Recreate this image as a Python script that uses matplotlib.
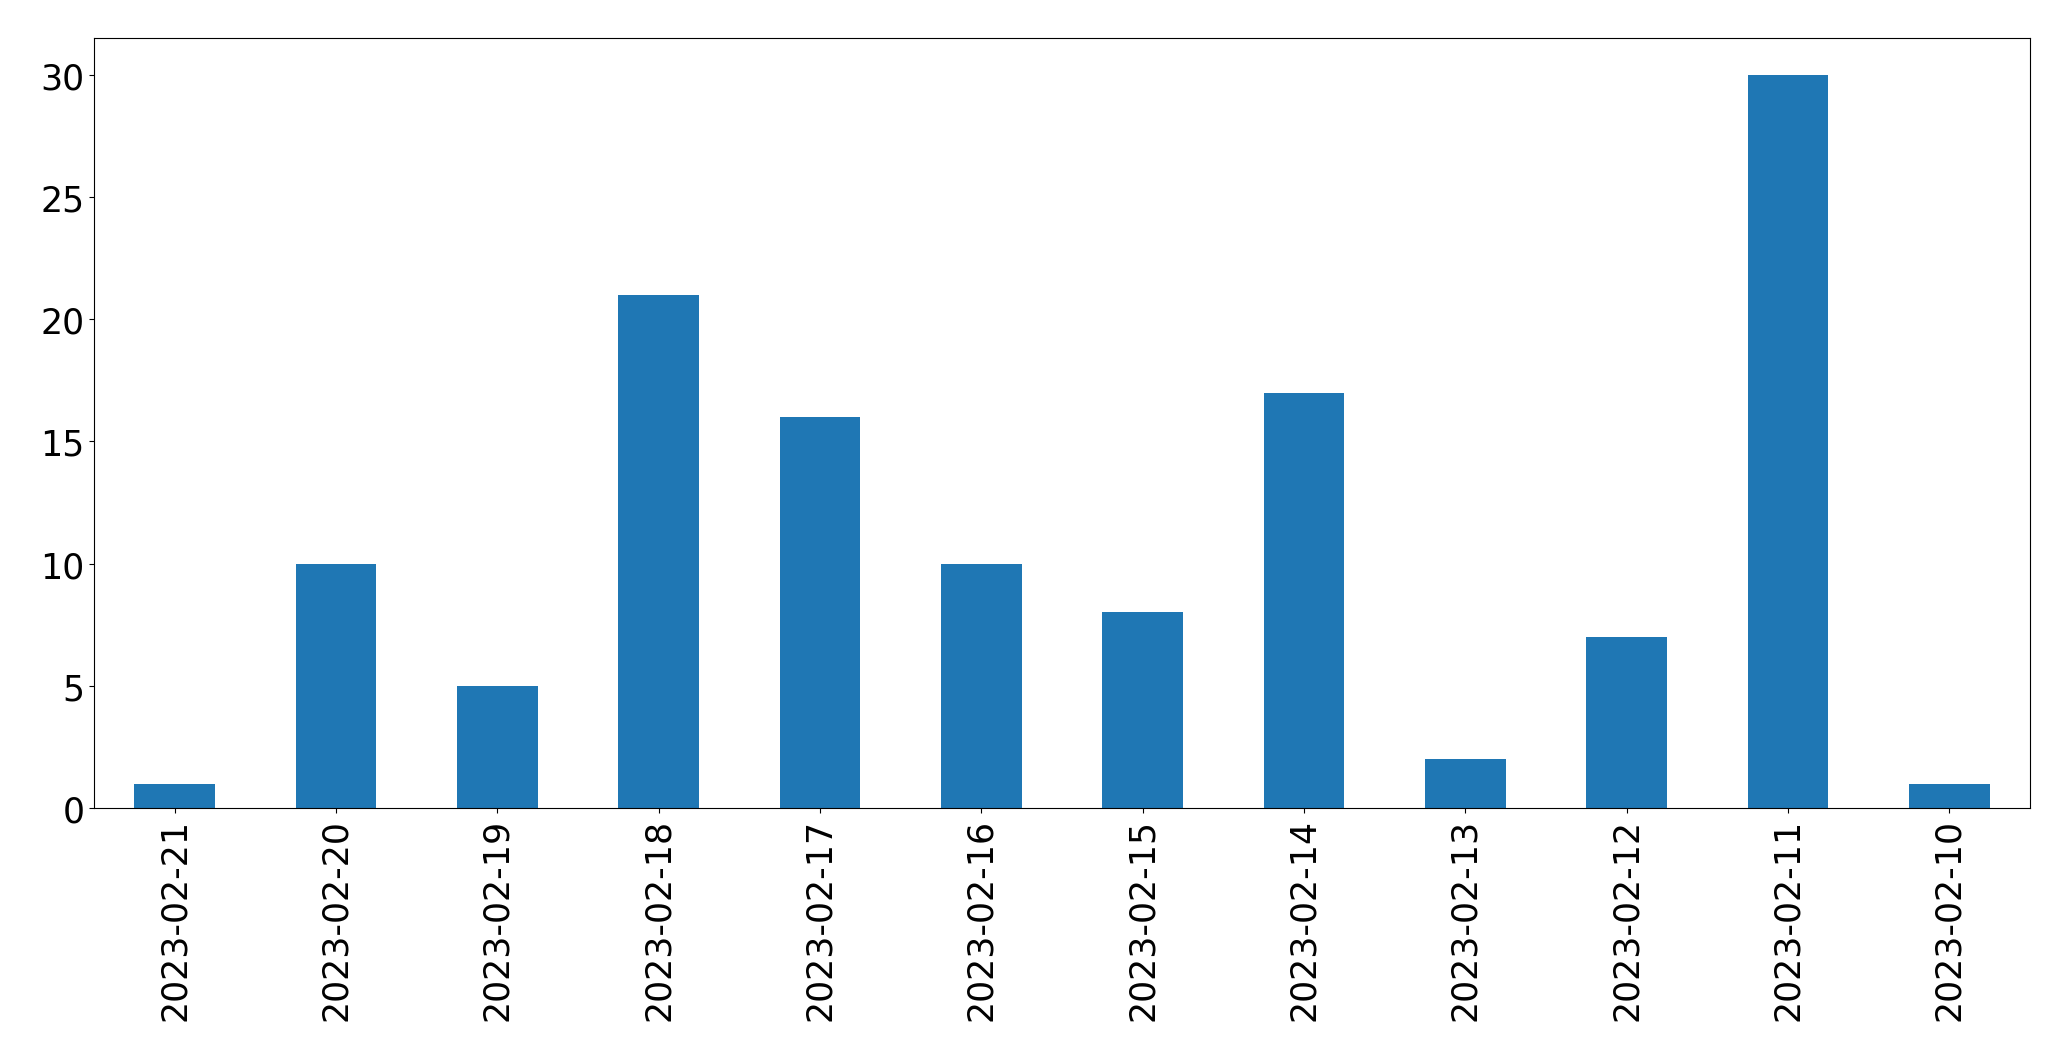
import matplotlib
matplotlib.use('Agg')
import matplotlib.pyplot as plt

dates = ['2023-02-21', '2023-02-20', '2023-02-19', '2023-02-18', '2023-02-17', '2023-02-16',
         '2023-02-15', '2023-02-14', '2023-02-13', '2023-02-12', '2023-02-11', '2023-02-10']
counts = [1, 10, 5, 21, 16, 10, 8, 17, 2, 7, 30, 1]

fig = plt.figure(figsize=(20.71, 10.609), dpi=100)
ax = fig.add_axes([94 / 2071, 1 - 809 / 1061, (2030 - 94) / 2071, (809 - 39) / 1061])
x = list(range(len(dates)))
ax.bar(x, counts, width=0.5, color='#1f77b4')
ax.set_xticks(x)
ax.set_xticklabels(dates, rotation=90)
ax.set_xlim(-0.5, len(dates) - 0.5)
ax.tick_params(labelsize=25)
plt.savefig('out.png')
